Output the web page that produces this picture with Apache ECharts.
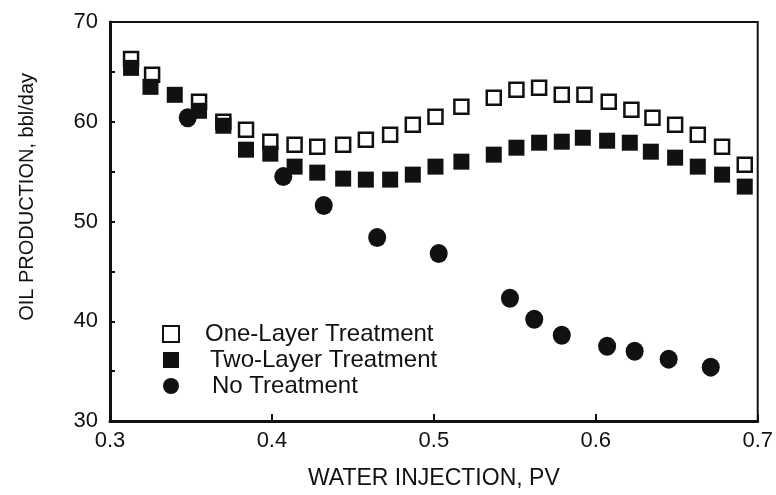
<!DOCTYPE html>
<html>
<head>
<meta charset="utf-8">
<script src="https://cdn.jsdelivr.net/npm/echarts@6/dist/echarts.min.js"></script>
<style>
    html, body { margin: 0; padding: 0; background: #fff; }
    #chart { width: 776px; height: 495px; }
</style>
</head>
<body>
<div id="chart"></div>
<script>
// one-layer treatment (open squares)
var oneLayerX = [0.313, 0.326, 0.355, 0.370, 0.384, 0.399, 0.414, 0.428, 0.444, 0.458, 0.473, 0.487, 0.501,
    0.517, 0.537, 0.551, 0.565, 0.579, 0.593, 0.608, 0.622, 0.635, 0.649, 0.663, 0.678, 0.692];
var oneLayerY = [66.3, 64.7, 62.0, 60.0, 59.2, 58.0, 57.7, 57.5, 57.7, 58.2, 58.7, 59.7, 60.5,
    61.5, 62.4, 63.2, 63.4, 62.7, 62.7, 62.0, 61.2, 60.4, 59.7, 58.7, 57.5, 55.7];

// two-layer treatment (filled squares)
var twoLayerX = [0.313, 0.325, 0.340, 0.355, 0.370, 0.384, 0.399, 0.414, 0.428, 0.444, 0.458, 0.473, 0.487,
    0.501, 0.517, 0.537, 0.551, 0.565, 0.579, 0.592, 0.607, 0.621, 0.634, 0.649, 0.663, 0.678, 0.692];
var twoLayerY = [65.4, 63.5, 62.7, 61.1, 59.6, 57.2, 56.8, 55.5, 54.9, 54.3, 54.2, 54.2, 54.7,
    55.5, 56.0, 56.7, 57.4, 57.9, 58.0, 58.4, 58.1, 57.9, 57.0, 56.4, 55.5, 54.7, 53.5];

// no treatment (filled circles)
var noTreatX = [0.348, 0.407, 0.432, 0.465, 0.503, 0.547, 0.562, 0.579, 0.607, 0.624, 0.645, 0.671];
var noTreatY = [60.4, 54.5, 51.6, 48.4, 46.8, 42.3, 40.2, 38.6, 37.5, 37.0, 36.2, 35.4];

var seriesNames = ['One-Layer Treatment', 'Two-Layer Treatment', 'No Treatment'];

function zip(xs, ys) {
    var out = [];
    for (var i = 0; i < xs.length; i++) {
        out.push([xs[i], ys[i]]);
    }
    return out;
}

var fontName = '"Liberation Sans", Arial, sans-serif';
var ink = '#111';

var chart = echarts.init(document.getElementById('chart'));

chart.setOption({
    animation: false,
    backgroundColor: '#fff',
    textStyle: { fontFamily: fontName, color: ink },
    grid: {
        left: 110, right: 18, top: 22, bottom: 73,
        show: true,
        borderColor: ink,
        borderWidth: 2
    },
    legend: {
        data: seriesNames,
        orient: 'vertical',
        left: 157,
        top: 317,
        itemWidth: 16,
        itemHeight: 16,
        itemGap: 2,
        formatter: function (name) {
            //the scan's labels start a bit staggered
            if (name === seriesNames[0]) return '{a|' + name + '}';
            if (name === seriesNames[1]) return '{b|' + name + '}';
            return '{c|' + name + '}';
        },
        textStyle: {
            fontSize: 24, color: ink, fontFamily: fontName,
            rich: {
                a: { fontSize: 24, padding: [0, 0, 0, 21] },
                b: { fontSize: 24, padding: [0, 0, 0, 26] },
                c: { fontSize: 24, padding: [0, 0, 0, 28] }
            }
        }
    },
    xAxis: {
        type: 'value',
        min: 0.3,
        max: 0.7,
        interval: 0.1,
        name: 'WATER INJECTION, PV',
        nameLocation: 'middle',
        nameGap: 46,
        nameTextStyle: { fontSize: 23, color: ink, fontFamily: fontName },
        axisLine: { show: true, lineStyle: { color: ink, width: 3 } },
        axisTick: { show: true, inside: true, length: 7, lineStyle: { color: ink, width: 2 } },
        axisLabel: {
            fontSize: 22, color: ink, margin: 9,
            formatter: function (v) { return v.toFixed(1); }
        },
        splitLine: { show: false }
    },
    yAxis: {
        type: 'value',
        min: 30,
        max: 70,
        interval: 10,
        axisLine: { show: true, lineStyle: { color: ink, width: 3 } },
        axisTick: { show: true, inside: true, length: 5, lineStyle: { color: ink, width: 2 } },
        minorTick: { show: true, splitNumber: 2, length: 5, lineStyle: { color: ink, width: 2 } },
        axisLabel: { fontSize: 22, color: ink, margin: 12 },
        splitLine: { show: false }
    },
    graphic: [{
        type: 'text',
        left: 17,
        top: 73,
        style: {
            text: 'OIL PRODUCTION, bbl/day',
            fontSize: 20,
            fontFamily: fontName,
            fill: ink
        },
        rotation: Math.PI / 2,
        originX: 0,
        originY: 0
    }],
    series: [
        {
            name: seriesNames[0],
            type: 'scatter',
            symbol: 'rect',
            symbolSize: 14,
            itemStyle: { color: '#fff', borderColor: ink, borderWidth: 2.5, opacity: 1 },
            data: zip(oneLayerX, oneLayerY),
            z: 2
        },
        {
            name: seriesNames[2],
            type: 'scatter',
            symbol: 'circle',
            symbolSize: [18, 19],
            itemStyle: { color: ink, opacity: 1 },
            data: zip(noTreatX, noTreatY),
            z: 3
        },
        {
            name: seriesNames[1],
            type: 'scatter',
            symbol: 'rect',
            symbolSize: 16,
            itemStyle: { color: ink, opacity: 1 },
            data: zip(twoLayerX, twoLayerY),
            z: 4
        }
    ]
});
</script>
</body>
</html>
